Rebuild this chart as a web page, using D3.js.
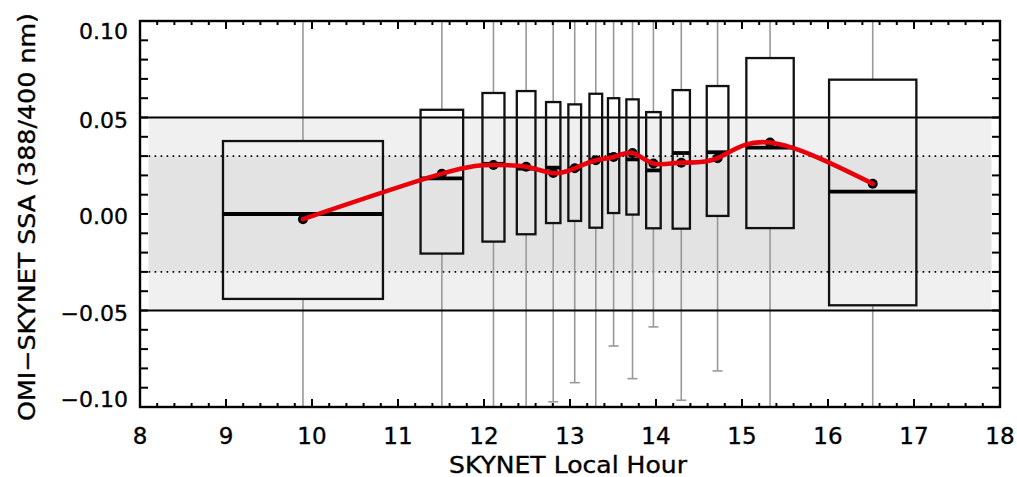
<!DOCTYPE html>
<html>
<head>
<meta charset="utf-8">
<script src="https://cdn.jsdelivr.net/npm/d3@7"></script>
<style>
  body { margin: 0; background: #fff; }
  svg text { font-family: "DejaVu Sans", sans-serif; fill: #000; stroke: #000; stroke-width: 0.35px; }
</style>
</head>
<body>
<svg id="chart" width="1017" height="477"></svg>
<script>
// box positions (local hour) and widths in hours
var hours  = [9.895, 11.51, 12.11, 12.49, 12.805, 13.055, 13.30, 13.507, 13.727, 13.97, 14.294, 14.716, 15.326, 16.52];
var widths = [1.86, 0.495, 0.256, 0.217, 0.167, 0.148, 0.148, 0.131, 0.143, 0.169, 0.201, 0.252, 0.551, 1.015];
// box stats
var q3      = [0.0378, 0.054, 0.0627, 0.0637, 0.058, 0.0568, 0.0623, 0.060, 0.0594, 0.0528, 0.0642, 0.0663, 0.0808, 0.0696];
var q1      = [-0.044, -0.0205, -0.0143, -0.0105, -0.0047, -0.0036, -0.0071, 0.0005, -0.0003, -0.0074, -0.0076, -0.001, -0.0073, -0.0473];
var medians = [0.000, 0.0185, 0.026, 0.0235, 0.024, 0.0235, 0.028, 0.0306, 0.0283, 0.0226, 0.0316, 0.032, 0.0344, 0.0116];
var means   = [-0.0027, 0.0209, 0.0254, 0.0245, 0.0212, 0.0237, 0.0279, 0.0295, 0.0316, 0.0262, 0.0266, 0.0289, 0.037, 0.0157];
// whisker ends (values beyond +-0.10 run off the frame)
var whiskLo = [-0.12, -0.12, -0.12, -0.12, -0.0973, -0.0874, -0.12, -0.0684, -0.0853, -0.0585, -0.0965, -0.0813, -0.12, -0.12];
var whiskHi = [0.12, 0.12, 0.12, 0.12, 0.12, 0.12, 0.12, 0.12, 0.12, 0.12, 0.12, 0.12, 0.12, 0.12];

var xTicks = [8, 9, 10, 11, 12, 13, 14, 15, 16, 17, 18];
var yTicks = [-0.10, -0.05, 0.00, 0.05, 0.10];
var outerBand = [-0.05, 0.05];
var innerBand = [-0.03, 0.03];

var svg = d3.select("#chart");
var pL = 140, pR = 1000, pT = 21, pB = 407;

var x = d3.scaleLinear().domain([8, 18]).range([pL, pR]);
var y = d3.scaleLinear().domain([-0.10, 0.10]).range([pB, pT]);

svg.append("defs").append("clipPath").attr("id", "clip")
  .append("rect").attr("x", pL).attr("y", pT)
  .attr("width", pR - pL).attr("height", pB - pT);

var plot = svg.append("g").attr("clip-path", "url(#clip)");

// shaded bands
plot.append("rect")
  .attr("x", x(8.1)).attr("width", x(17.9) - x(8.1))
  .attr("y", y(outerBand[1])).attr("height", y(outerBand[0]) - y(outerBand[1]))
  .style("fill", "#f0f0f0");
plot.append("rect")
  .attr("x", x(8.1)).attr("width", x(17.9) - x(8.1))
  .attr("y", y(innerBand[1])).attr("height", y(innerBand[0]) - y(innerBand[1]))
  .style("fill", "#e3e3e3");

// dotted lines
innerBand.forEach(function(v) {
  plot.append("line")
    .attr("x1", x(8.1)).attr("x2", x(18))
    .attr("y1", y(v)).attr("y2", y(v))
    .style("stroke", "#000").style("stroke-width", 1.6)
    .style("stroke-dasharray", "1.6,4.4");
});

// whiskers
var idx = d3.range(hours.length);
plot.selectAll(".whiskHi").data(idx).enter().append("line")
  .attr("x1", function(i) { return x(hours[i]); })
  .attr("x2", function(i) { return x(hours[i]); })
  .attr("y1", function(i) { return y(q3[i]); })
  .attr("y2", function(i) { return y(whiskHi[i]); })
  .style("stroke", "#999").style("stroke-width", 1.6);
plot.selectAll(".whiskLo").data(idx).enter().append("line")
  .attr("x1", function(i) { return x(hours[i]); })
  .attr("x2", function(i) { return x(hours[i]); })
  .attr("y1", function(i) { return y(q1[i]); })
  .attr("y2", function(i) { return y(whiskLo[i]); })
  .style("stroke", "#999").style("stroke-width", 1.6);
plot.selectAll(".cap").data(idx.filter(function(i) { return whiskLo[i] > -0.1; }))
  .enter().append("line")
  .attr("x1", function(i) { return x(hours[i]) - 5; })
  .attr("x2", function(i) { return x(hours[i]) + 5; })
  .attr("y1", function(i) { return y(whiskLo[i]); })
  .attr("y2", function(i) { return y(whiskLo[i]); })
  .style("stroke", "#999").style("stroke-width", 1.6);

// solid lines at +-0.05
outerBand.forEach(function(v) {
  plot.append("line")
    .attr("x1", pL).attr("x2", pR)
    .attr("y1", y(v)).attr("y2", y(v))
    .style("stroke", "#000").style("stroke-width", 2.2);
});

// boxes
plot.selectAll(".box").data(idx).enter().append("rect")
  .attr("x", function(i) { return x(hours[i] - widths[i] / 2); })
  .attr("width", function(i) { return x(hours[i] + widths[i] / 2) - x(hours[i] - widths[i] / 2); })
  .attr("y", function(i) { return y(q3[i]); })
  .attr("height", function(i) { return y(q1[i]) - y(q3[i]); })
  .style("fill", "none").style("stroke", "#111").style("stroke-width", 2.3);

plot.selectAll(".median").data(idx).enter().append("line")
  .attr("x1", function(i) { return x(hours[i] - widths[i] / 2); })
  .attr("x2", function(i) { return x(hours[i] + widths[i] / 2); })
  .attr("y1", function(i) { return y(medians[i]); })
  .attr("y2", function(i) { return y(medians[i]); })
  .style("stroke", "#000").style("stroke-width", 3.8);

// mean points + spline
plot.selectAll(".mean").data(idx).enter().append("circle")
  .attr("cx", function(i) { return x(hours[i]); })
  .attr("cy", function(i) { return y(means[i]); })
  .attr("r", 5)
  .style("fill", "#000");

var line = d3.line()
  .x(function(i) { return x(hours[i]); })
  .y(function(i) { return y(means[i]); })
  .curve(d3.curveNatural);
plot.append("path").datum(idx).attr("d", line)
  .style("fill", "none").style("stroke", "#e8000b").style("stroke-width", 4.6)
  .style("stroke-linecap", "round");

// ticks (inward on all sides)
var axes = svg.append("g").style("stroke", "#000").style("stroke-width", 2);
d3.range(8, 18.001, 0.2).forEach(function(h) {
  var major = Math.abs(h - Math.round(h)) < 1e-6;
  var len = major ? 8 : 4;
  axes.append("line").attr("x1", x(h)).attr("x2", x(h)).attr("y1", pB).attr("y2", pB - len);
  axes.append("line").attr("x1", x(h)).attr("x2", x(h)).attr("y1", pT).attr("y2", pT + len);
});
d3.range(-0.1, 0.1001, 0.01).forEach(function(v) {
  axes.append("line").attr("x1", pL).attr("x2", pL + 8).attr("y1", y(v)).attr("y2", y(v));
  axes.append("line").attr("x1", pR).attr("x2", pR - 8).attr("y1", y(v)).attr("y2", y(v));
});
axes.append("rect").attr("x", pL).attr("y", pT)
  .attr("width", pR - pL).attr("height", pB - pT)
  .style("fill", "none").style("stroke-width", 2.4);

// tick labels
svg.selectAll(".xl").data(xTicks).enter().append("text")
  .attr("x", function(d) { return x(d); })
  .attr("y", 444)
  .attr("text-anchor", "middle")
  .style("font-size", "23px")
  .text(function(d) { return d; });

svg.selectAll(".yl").data(yTicks).enter().append("text")
  .attr("x", 128)
  .attr("y", function(d) {
    var off = d >= 0.1 ? 10 : d <= -0.1 ? -8 : 2;
    return y(d) + off + 8;
  })
  .attr("text-anchor", "end")
  .style("font-size", "22px")
  .text(function(d) { return d3.format(".2f")(d).replace("-", "\u2212"); });

// axis titles
svg.append("text")
  .attr("x", 568).attr("y", 473)
  .attr("text-anchor", "middle")
  .attr("textLength", 238).attr("lengthAdjust", "spacingAndGlyphs")
  .style("font-size", "23px")
  .text("SKYNET Local Hour");

svg.append("text")
  .attr("transform", "translate(35,217) rotate(-90)")
  .attr("text-anchor", "middle")
  .attr("textLength", 408).attr("lengthAdjust", "spacingAndGlyphs")
  .style("font-size", "23px")
  .text("OMI\u2212SKYNET SSA (388/400 nm)");
</script>
</body>
</html>
